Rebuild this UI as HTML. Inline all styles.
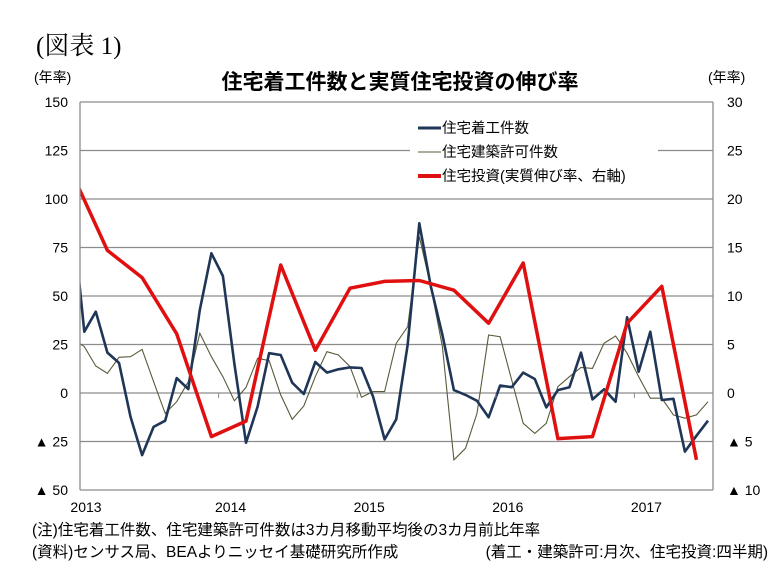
<!DOCTYPE html>
<html><head><meta charset="utf-8">
<style>
body{margin:0;background:#fff;}
svg text{font-family:"Liberation Sans","Noto Sans CJK JP",sans-serif;fill:#000;}
</style></head>
<body>
<svg id="chart" width="776" height="570" viewBox="0 0 776 570" xmlns="http://www.w3.org/2000/svg">
<defs><clipPath id="plotclip"><rect x="80" y="95" width="633" height="400"/></clipPath></defs>
<text x="36" y="54" font-size="25" style="font-family:'Liberation Serif','Noto Serif CJK SC',serif">(図表 1)</text>
<text x="400" y="89" font-size="21" font-weight="bold" text-anchor="middle">住宅着工件数と実質住宅投資の伸び率</text>
<text x="34" y="82" font-size="14">(年率)</text>
<text x="708" y="82" font-size="14">(年率)</text>
<g id="grid"></g>
<g id="series" clip-path="url(#plotclip)"></g>
<g id="axes"></g>
<g>
<rect x="410" y="114" width="248" height="74" fill="#fff"/>
<g><line x1="418" y1="128" x2="441" y2="128" stroke="#1f3657" stroke-width="3"/><text x="442" y="133" font-size="14.5">住宅着工件数</text></g>
<g><line x1="418" y1="152" x2="441" y2="152" stroke="#5a5a3a" stroke-width="1"/><text x="442" y="157" font-size="14.5">住宅建築許可件数</text></g>
<g><line x1="418" y1="176" x2="441" y2="176" stroke="#e01010" stroke-width="4"/><text x="442" y="181" font-size="14.5">住宅投資(実質伸び率、右軸)</text></g>
</g>
<text x="32" y="535" font-size="15.5">(注)住宅着工件数、住宅建築許可件数は3カ月移動平均後の3カ月前比年率</text>
<text x="32" y="557" font-size="15.5">(資料)センサス局、BEAよりニッセイ基礎研究所作成</text>
<text x="768" y="557" font-size="15.5" text-anchor="end">(着工・建築許可:月次、住宅投資:四半期)</text>
</svg>
<script>
const leftTicks=[150,125,100,75,50,25,0,-25,-50];
const leftTickLabels=["150","125","100","75","50","25","0","▲ 25","▲ 50"];
const rightTickLabels=["30","25","20","15","10","5","0","▲ 5","▲ 10"];
const years=["2013","2014","2015","2016","2017"];
const yearMonthIndex=[-0.35,11.65,23.65,35.65,47.65];
const starts=[90,31.6,41.9,20.8,15.5,-12.2,-32,-17.5,-14.3,7.7,2,42.8,72,60.3,15,-25.6,-7,20.5,19.6,5.3,-0.5,16,10.5,12.2,13.2,12.9,-1.9,-23.9,-13.6,25,87.5,55,30,1.5,-1,-4,-12.5,3.8,3,10.5,7.2,-7.4,1.5,3,20.8,-3.3,1.9,-4.5,39,11,31.6,-3.6,-3,-30.2,-22,-14.3];
const permits=[28,23.9,13.9,10.1,18.4,18.7,22.5,5.8,-10.5,-4.5,5.8,30.8,18.7,8.4,-4,2.9,17.9,16.7,-1,-13.6,-6.7,8.4,21.3,19.6,13.6,-2.2,0.7,0.7,25.6,34.2,80.6,54.8,23.9,-34.5,-28.5,-10.5,29.9,29,6.7,-15.6,-20.8,-15.6,3.3,8.4,13.2,12.7,25.6,29.4,20.5,8.4,-2.7,-2.7,-11.3,-13,-11.3,-4.5];
const investment=[22.5,14.7,11.9,6.1,-4.5,-2.9,13.2,4.4,10.8,11.5,11.6,10.6,7.2,13.4,-4.7,-4.5,7.2,11.0,-6.9];
const NS="http://www.w3.org/2000/svg";
const X0=80,X1=713;
function xM(i){return 84.3+11.55*i;}
function yL(v){return 393-v*1.94;}
function yR(v){return 393-v*9.7;}
function mk(tag,attrs,parent){const e=document.createElementNS(NS,tag);for(const k in attrs)e.setAttribute(k,attrs[k]);parent.appendChild(e);return e;}
const grid=document.getElementById('grid'),axes=document.getElementById('axes'),ser=document.getElementById('series');
leftTicks.forEach((v,i)=>{
  const y=yL(v);
  const l=mk('line',{x1:X0,x2:X1,y1:y,y2:y,stroke:'#8c8c8c','stroke-width':1.3},grid);
  
  
  const t=mk('text',{x:68,y:y+5,'font-size':14,'text-anchor':'end'},axes);t.textContent=leftTickLabels[i];
  
  
  const r=mk('text',{x:727,y:y+5,'font-size':14},axes);r.textContent=rightTickLabels[i];
  
  
});
const la=mk('line',{x1:X0,x2:X0,y1:yL(150),y2:yL(-50),stroke:'#8c8c8c','stroke-width':1.3},axes);


const ra=mk('line',{x1:X1,x2:X1,y1:yL(150),y2:yL(-50),stroke:'#8c8c8c','stroke-width':1.3},axes);


years.forEach((y,i)=>{
  const x=X0+(yearMonthIndex[i]+0.35)*11.55;
  const tk=mk('line',{x1:x,x2:x,y1:yL(0),y2:yL(0)+5,stroke:'#8c8c8c'},axes);
  
  
  const t=mk('text',{x:x+(i===0?6:12),y:512,'font-size':14,'text-anchor':'middle'},axes);t.textContent=y;
  
  
});
function pts(arr,xf,yf){return arr.map((v,i)=>xf(i).toFixed(1)+','+yf(v).toFixed(1)).join(' ');}
const p1=mk('polyline',{points:pts(permits,i=>xM(i-1),yL),fill:'none',stroke:'#5a5a3a','stroke-width':1.1},ser);


const p2=mk('polyline',{points:pts(starts,i=>xM(i-1),yL),fill:'none',stroke:'#1f3657','stroke-width':2.6,'stroke-linejoin':'round'},ser);


const p3=mk('polyline',{points:pts(investment,i=>xM(-1+3*i),yR),fill:'none',stroke:'#e01010','stroke-width':3.5,'stroke-linejoin':'round'},ser);


</script>
</body></html>
